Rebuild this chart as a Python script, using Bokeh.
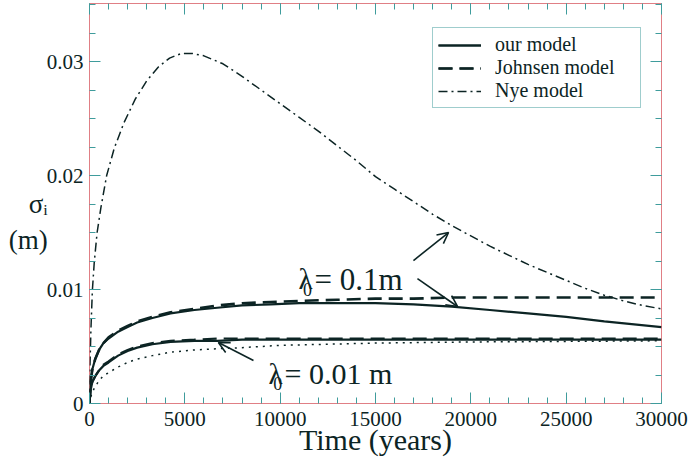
from bokeh.plotting import figure
from bokeh.models import (FixedTicker, LinearAxis, Legend, LegendItem, Label,
                          Arrow, OpenHead, Range1d, CustomLabelingPolicy)
from bokeh.embed import file_html
from bokeh.resources import INLINE

# ---------------- data ----------------
# lambda0 = 0.1 m
t_01 = [0, 50, 150, 300, 500, 730, 1000, 1500, 2000, 2500, 3300, 4250, 5500, 6700, 8000, 9500,
        11000, 13000, 15000, 17000, 19000, 21000, 23000, 25000, 27000, 30000]
our01 = [0, 0.0018, 0.0030, 0.0039, 0.0047, 0.0053, 0.0057, 0.0063, 0.0067, 0.0071, 0.0075, 0.0079,
         0.0082, 0.0084, 0.0086, 0.0087, 0.0088, 0.0088, 0.0088, 0.0087, 0.0085, 0.0082, 0.0079,
         0.0076, 0.0072, 0.0067]
joh01 = [0, 0.0018, 0.0030, 0.0039, 0.0047, 0.0053, 0.0058, 0.0064, 0.0068, 0.0072, 0.0076, 0.0080,
         0.0083, 0.0086, 0.0088, 0.0089, 0.0090, 0.0091, 0.0092, 0.0092, 0.0093, 0.0093, 0.0093,
         0.0093, 0.0093, 0.0093]
t_nye = [0, 25, 75, 150, 250, 400, 600, 900, 1300, 1800, 2400, 3000, 3600, 4200, 4800, 5400, 6000,
         7000, 8000, 9000, 10000, 11000, 12000, 13000, 14000, 15000, 16000, 17000, 18000, 19000,
         20000, 21000, 22000, 23000, 24000, 25000, 26000, 27000, 28000, 29000, 30000]
nye01 = [0, 0.0033, 0.0065, 0.0099, 0.0124, 0.0150, 0.0172, 0.0200, 0.0224, 0.0246, 0.0267, 0.0283,
         0.0295, 0.0303, 0.0307, 0.0307, 0.0305, 0.0298, 0.0287, 0.0275, 0.0263, 0.0251, 0.0239,
         0.0226, 0.0213, 0.0199, 0.0188, 0.0177, 0.0166, 0.0156, 0.0147, 0.0138, 0.0130, 0.0122,
         0.0115, 0.0108, 0.0101, 0.0095, 0.0090, 0.0086, 0.0083]
# lambda0 = 0.01 m
t_001 = [0, 50, 150, 300, 500, 730, 1000, 1500, 2000, 2500, 3300, 4250, 5500, 6700, 8000, 10000,
         15000, 20000, 30000]
our001 = [0, 0.0011, 0.0019, 0.0024, 0.0029, 0.0033, 0.0036, 0.0042, 0.0046, 0.0049, 0.0052, 0.0054,
          0.0055, 0.0055, 0.0056, 0.0056, 0.0056, 0.0056, 0.0056]
joh001 = [0, 0.0011, 0.0019, 0.0024, 0.0029, 0.0034, 0.0037, 0.0043, 0.0047, 0.0050, 0.0053, 0.0055,
          0.0056, 0.0057, 0.0057, 0.0057, 0.0057, 0.0057, 0.0057]
dot001 = [0, 0.0005, 0.0010, 0.0015, 0.0020, 0.00245, 0.0027, 0.0032, 0.0036, 0.0039, 0.0042, 0.0045,
          0.0047, 0.0048, 0.0049, 0.0051, 0.0053, 0.0054, 0.0055]

x_major = [0, 5000, 10000, 15000, 20000, 25000, 30000]
x_minor = list(range(0, 30001, 1000))
y_major = [0, 0.01, 0.02, 0.03]
y_minor = [i * 0.0025 for i in range(0, 15)]
y_labels = {0: "0", 0.01: "0.01", 0.02: "0.02", 0.03: "0.03"}
legend_labels = ["our model", "Johnsen model", "Nye model"]
x_title = "Time (years)"
y_title = "\nσᵢ\n(m)"

INK = "#0c2424"
TICK = "#3f9c9c"
FRAME = "#e07f85"
SERIF = "Liberation Serif"

p = figure(width=691, height=462, output_backend="svg", toolbar_location=None,
           x_range=Range1d(0, 30000), y_range=Range1d(0, 0.03509),
           min_border_left=89, min_border_right=30, min_border_top=3, min_border_bottom=59,
           x_axis_location=None, y_axis_location=None)
p.grid.visible = False
p.outline_line_color = FRAME
p.outline_line_width = 1
p.background_fill_color = "white"
p.border_fill_color = "white"

xt = FixedTicker(ticks=x_major, minor_ticks=x_minor)
yt = FixedTicker(ticks=y_major, minor_ticks=y_minor)

def style(ax, labels=True):
    ax.axis_line_color = None
    ax.major_tick_line_color = TICK
    ax.minor_tick_line_color = TICK
    ax.major_tick_in = 11
    ax.major_tick_out = 0
    ax.minor_tick_in = 6
    ax.minor_tick_out = 0
    ax.major_tick_line_width = 1
    ax.minor_tick_line_width = 1
    if labels:
        ax.major_label_text_font = SERIF
        ax.major_label_text_font_size = "21px"
        ax.major_label_text_color = INK
        ax.major_label_standoff = 8
        ax.axis_label_text_font = SERIF
        ax.axis_label_text_font_style = "normal"
        ax.axis_label_text_color = INK
    else:
        # mirrored tick marks only: no tick labels at all
        ax.major_label_text_font_size = "0px"
        ax.major_label_standoff = 0
        ax.major_label_policy = CustomLabelingPolicy(code="return new Set()")

xb = LinearAxis(ticker=xt, axis_label=x_title); style(xb)
xb.axis_label_text_font_size = "30px"
xb.axis_label_standoff = -6
xa = LinearAxis(ticker=xt); style(xa, False)
yl = LinearAxis(ticker=yt, major_label_overrides=y_labels, axis_label=y_title); style(yl)
yl.major_label_standoff = 6
yl.axis_label_text_font_size = "27px"
yl.axis_label_orientation = "horizontal"
yl.axis_label_standoff = -4
yr = LinearAxis(ticker=yt); style(yr, False)
p.add_layout(xb, "below")
p.add_layout(xa, "above")
p.add_layout(yl, "left")
p.add_layout(yr, "right")

r_our01 = p.line(t_01, our01, line_color=INK, line_width=2.2)
r_our001 = p.line(t_001, our001, line_color=INK, line_width=2.2)
r_joh01 = p.line(t_01, joh01, line_color=INK, line_width=2.6, line_dash="14 7")
r_joh001 = p.line(t_001, joh001, line_color=INK, line_width=2.2, line_dash="14 7")
r_nye01 = p.line(t_nye, nye01, line_color=INK, line_width=1.5, line_dash="9 4 2 4")
r_dot = p.line(t_001, dot001, line_color=INK, line_width=1.5, line_dash="2 5")

legend = Legend(items=[LegendItem(label=legend_labels[0], renderers=[r_our01, r_our001]),
                       LegendItem(label=legend_labels[1], renderers=[r_joh01, r_joh001]),
                       LegendItem(label=legend_labels[2], renderers=[r_nye01])],
                location=(343, 295))
legend.label_text_font = SERIF
legend.label_text_font_size = "20px"
legend.label_text_color = INK
legend.border_line_color = TICK
legend.border_line_width = 1
legend.background_fill_alpha = 1
legend.padding = 5
legend.spacing = 0
legend.label_height = 22
legend.glyph_height = 22
legend.glyph_width = 43
legend.label_standoff = 14
legend.label_width = 140
legend.margin = 0
p.add_layout(legend, "center")

# in-plot annotations (data units)
def txt(x, y, s, size, base="alphabetic"):
    p.add_layout(Label(x=x, y=y, text=s, text_font=SERIF, text_font_size=size,
                       text_color=INK, text_baseline=base))

txt(10960, 0.01088, "λ", "29px")
txt(11200, 0.00998, "0", "18px")
txt(11800, 0.01088, "= 0.1m", "31px")
txt(9390, 0.00263, "λ", "29px")
txt(9640, 0.00175, "0", "18px")
txt(10230, 0.00263, "= 0.01 m", "30px")

head = dict(size=11, line_width=1.6, line_color=INK)
p.add_layout(Arrow(x_start=16990, y_start=0.01254, x_end=18830, y_end=0.0150,
                   line_color=INK, line_width=1.6, end=OpenHead(**head)))
p.add_layout(Arrow(x_start=17200, y_start=0.01096, x_end=19300, y_end=0.00851,
                   line_color=INK, line_width=1.6, end=OpenHead(**head)))
p.add_layout(Arrow(x_start=8600, y_start=0.00377, x_end=6760, y_end=0.00535,
                   line_color=INK, line_width=1.6, end=OpenHead(**head)))

open("out.html", "w").write(file_html(p, INLINE))
